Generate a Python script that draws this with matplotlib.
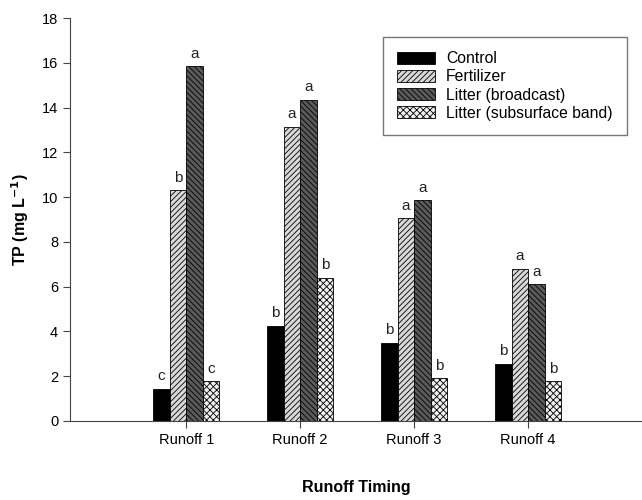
import matplotlib
matplotlib.use("Agg")
import matplotlib.pyplot as plt
import numpy as np

plt.rcParams['font.family'] = ['Liberation Sans', 'DejaVu Sans']
plt.rcParams['hatch.linewidth'] = 0.6

timings = ["Runoff 1", "Runoff 2", "Runoff 3", "Runoff 4"]
treatments = ["Control", "Fertilizer", "Litter (broadcast)", "Litter (subsurface band)"]
control = [1.43, 4.25, 3.5, 2.55]
fertilizer = [10.3, 13.15, 9.05, 6.8]
broadcast = [15.85, 14.35, 9.85, 6.1]
subsurface = [1.78, 6.4, 1.9, 1.78]
letters = [["c", "b", "b", "b"],
           ["b", "a", "a", "a"],
           ["a", "a", "a", "a"],
           ["c", "b", "b", "b"]]

series = [control, fertilizer, broadcast, subsurface]
facecolors = ["black", "#d8d8d8", "#5a5a5a", "#f0f0f0"]
hatches = [None, "//////", "\\\\\\\\\\\\", "xxxxx"]

fig = plt.figure(figsize=(6.42, 5.0), dpi=100)
ax = fig.add_axes([0.109, 0.158, 0.891, 0.806])

x = np.arange(1, len(timings) + 1)
w = 0.145
offsets = [-1.5 * w, -0.5 * w, 0.5 * w, 1.5 * w]
for vals, off, fc, h, name, lets in zip(series, offsets, facecolors, hatches, treatments, letters):
    bars = ax.bar(x + off, vals, width=w, color=fc, edgecolor="black",
                  linewidth=0.6, hatch=h, label=name)
    for b, v, l in zip(bars, vals, lets):
        ax.text(b.get_x() + b.get_width() / 2, v + 0.25, l, ha="center",
                va="bottom", fontsize=11, color="#222222")

ax.set_xlim(-0.02, 5.0)
ax.set_ylim(0, 18)
ax.set_xticks(x)
ax.set_xticklabels(timings, fontsize=10.5)
ax.set_yticks(np.arange(0, 19, 2))
ax.tick_params(axis="y", labelsize=10.5, direction="out", length=5, color="#444444")
ax.tick_params(axis="x", direction="out", length=5, color="#444444")
ax.spines["top"].set_visible(False)
ax.spines["right"].set_visible(False)
ax.spines["left"].set_color("#444444")
ax.spines["bottom"].set_color("#444444")

ax.set_ylabel("TP (mg L$^{\\mathbf{-1}}$)", fontsize=11.5, fontweight="bold", labelpad=8)
ax.set_xlabel("Runoff Timing", fontsize=11.5, fontweight="bold", labelpad=24)

leg = ax.legend(loc="upper right", bbox_to_anchor=(0.987, 0.972), fontsize=11.3,
                frameon=True, fancybox=False, edgecolor="#555555",
                handlelength=2.4, handleheight=0.8, borderpad=0.9,
                labelspacing=0.2, handletextpad=0.7)
leg.get_frame().set_linewidth(1.0)

fig.savefig("out.png", dpi=100)
